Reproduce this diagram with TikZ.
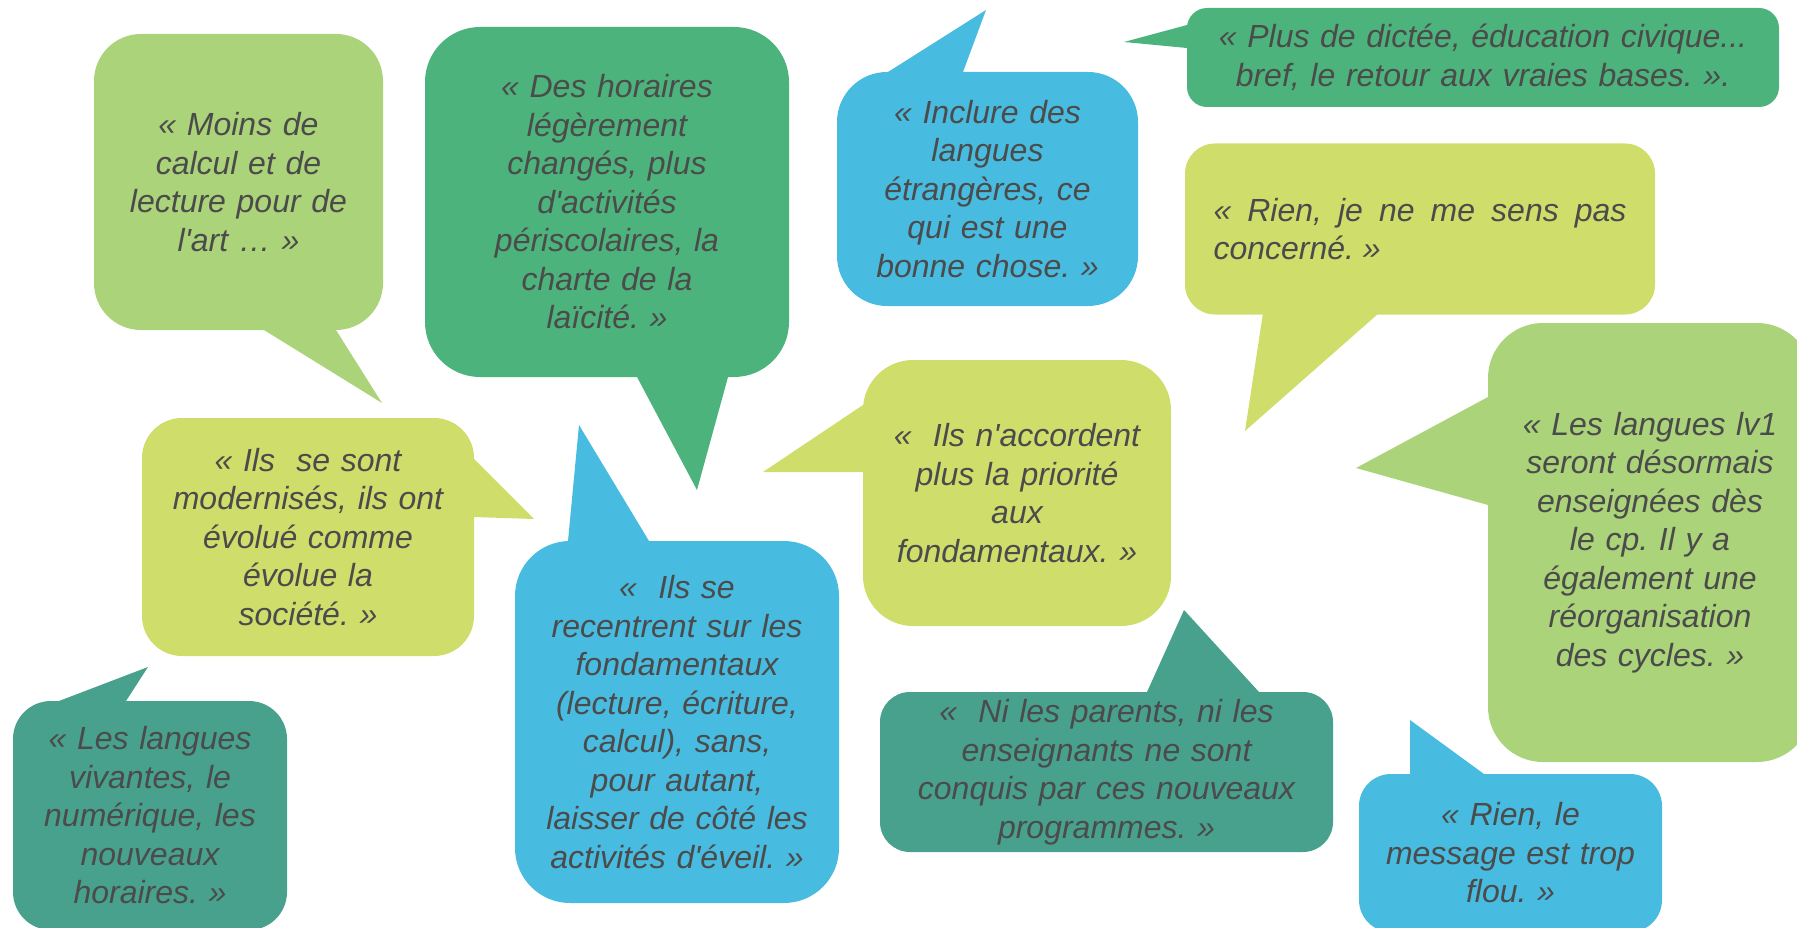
\documentclass[tikz,border=0pt]{standalone}
\usepackage{fontspec}
\setmainfont{Liberation Sans}[Ligatures=TeXOff]
\usetikzlibrary{calc}
\definecolor{cLight}{HTML}{ABD379}
\definecolor{cGreen}{HTML}{4DB37C}
\definecolor{cBlue}{HTML}{47BCE0}
\definecolor{cYel}{HTML}{CFDE6B}
\definecolor{cTeal}{HTML}{47A18D}
\definecolor{cText}{HTML}{4B4B4B}
\tikzset{
  bubble/.style={rectangle, inner sep=0pt, draw=none, text=cText,
    font=\fontsize{32}{38.5}\selectfont\itshape\frenchspacing, align=center},
}
\newcommand\bubtail[4]{\fill[#1] ($(#2)!-6pt!(#3)$) -- (#3) -- ($(#4)!-6pt!(#3)$) -- cycle;}
\frenchspacing
\begin{document}
\begin{tikzpicture}[x=1pt,y=-1pt]
\useasboundingbox (0,0) rectangle (1797,928);
\clip (0,0) rectangle (1797,928);

% bodies
\node[bubble, fill=cLight, minimum width=289pt, minimum height=296pt, rounded corners=47pt, text width=280pt] (A) at (238.5,182)
 {« Moins de\\calcul et de\\lecture pour de\\l'art … »};
\node[bubble, fill=cGreen, minimum width=364pt, minimum height=350pt, rounded corners=55pt, text width=350pt] (B) at (607,202)
 {« Des horaires\\légèrement\\changés, plus\\d'activités\\périscolaires, la\\charte de la\\laïcité. »};
\node[bubble, fill=cBlue, minimum width=301pt, minimum height=234pt, rounded corners=50pt, text width=290pt] (C) at (987.5,189)
 {« Inclure des\\langues\\étrangères, ce\\qui est une\\bonne chose. »};
\node[bubble, fill=cGreen, minimum width=592pt, minimum height=99pt, rounded corners=20pt, text width=580pt] (D) at (1483,57.5)
 {« Plus de dictée, éducation civique...\\bref, le retour aux vraies bases. ».};
\node[bubble, fill=cYel, minimum width=470pt, minimum height=171pt, rounded corners=30pt, text width=413pt, align=justify] (E) at (1420,229)
 {« Rien, je ne me sens pas\linebreak concerné. »};
\node[bubble, fill=cLight, minimum width=324pt, minimum height=439pt, rounded corners=55pt, text width=310pt] (F) at (1650,542.5)
 {« Les langues lv1\\seront désormais\\enseignées dès\\le cp. Il y a\\également une\\réorganisation\\des cycles. »};
\node[bubble, fill=cYel, minimum width=308pt, minimum height=266pt, rounded corners=50pt, text width=300pt] (G) at (1017,493)
 {«\ \ Ils n'accordent\\plus la priorité\\aux\\fondamentaux. »};
\node[bubble, fill=cBlue, minimum width=324pt, minimum height=362pt, rounded corners=55pt, text width=315pt] (H) at (677,722)
 {«\ \ Ils se\\recentrent sur les\\fondamentaux\\(lecture, écriture,\\calcul), sans,\\pour autant,\\laisser de côté les\\activités d'éveil. »};
\node[bubble, fill=cYel, minimum width=332pt, minimum height=238pt, rounded corners=40pt, text width=325pt] (I) at (308,537)
 {« Ils\ \ se sont\\modernisés, ils ont\\évolué comme\\évolue la\\société. »};
\node[bubble, fill=cTeal, minimum width=274pt, minimum height=229pt, rounded corners=38pt, text width=265pt] (J) at (150,815.5)
 {« Les langues\\vivantes, le\\numérique, les\\nouveaux\\horaires. »};
\node[bubble, fill=cTeal, minimum width=453pt, minimum height=160pt, rounded corners=30pt, text width=440pt] (K) at (1106.5,772)
 {«\ \ Ni les parents, ni les\\enseignants ne sont\\conquis par ces nouveaux\\programmes. »};
\node[bubble, fill=cBlue, minimum width=303pt, minimum height=158pt, rounded corners=32pt, text width=295pt] (L) at (1510.5,853)
 {« Rien, le\\message est trop\\flou. »};

% tails
\bubtail{cLight}{264,330}{382,403}{336,330}
\bubtail{cGreen}{637,377}{697,490}{728,377}
\bubtail{cBlue}{888,72}{986,10}{963,72}
\bubtail{cGreen}{1187,25}{1124,42}{1187,48}
\bubtail{cYel}{1263,313}{1245,431}{1379,313}
\bubtail{cLight}{1488,397}{1356,468}{1488,505}
\bubtail{cYel}{863,405}{763,472}{863,472}
\bubtail{cBlue}{568,541}{579,425}{649,541}
\bubtail{cYel}{474,459}{534,519}{474,517}
\bubtail{cTeal}{59,701}{148,667}{126,701}
\bubtail{cTeal}{1147,692}{1184,610}{1259,692}
\bubtail{cBlue}{1410,774}{1410,720}{1484,774}
\end{tikzpicture}
\end{document}
